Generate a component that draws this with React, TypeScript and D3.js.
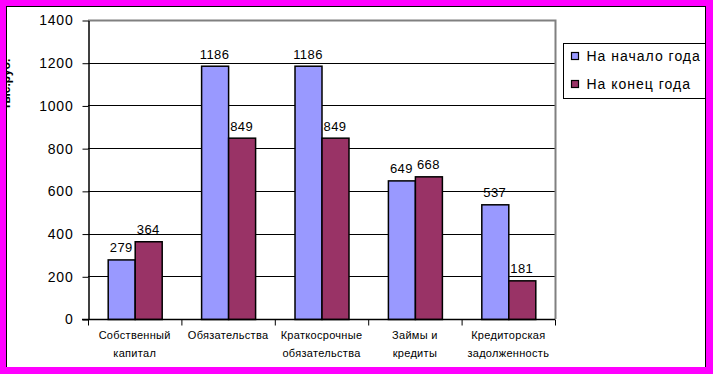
import React, { useRef, useEffect } from "react";
import * as d3 from "d3";

const categories = [
  ["Собственный", "капитал"],
  ["Обязательства"],
  ["Краткосрочные", "обязательства"],
  ["Займы и", "кредиты"],
  ["Кредиторская", "задолженность"],
];
const seriesNames = ["На начало года", "На конец года"];
const startValues = [279, 1186, 1186, 649, 537];
const endValues = [364, 849, 849, 668, 181];
const yTicks = [0, 200, 400, 600, 800, 1000, 1200, 1400];
const colors = ["#9999FF", "#993366"];

const App = () => {
  const ref = useRef<SVGSVGElement>(null);
  const width = 713;
  const height = 374;

  useEffect(() => {
    const svg = d3.select(ref.current);
    svg.selectAll("*").remove();

    const margin = { top: 20, right: 158, bottom: 55, left: 88 };
    const font = "Arial, 'Liberation Sans', sans-serif";

    svg.append("rect").attr("width", width).attr("height", height).attr("fill", "#fff");

    const x = d3
      .scaleBand()
      .domain(categories.map((d, i) => String(i)))
      .range([margin.left, width - margin.right])
      .paddingInner(0)
      .paddingOuter(0);

    const xs = d3
      .scaleBand()
      .domain(["0", "1"])
      .range([0, x.bandwidth()])
      .paddingInner(0)
      .paddingOuter(0.73);

    const y = d3
      .scaleLinear()
      .domain([0, 1400])
      .range([height - margin.bottom, margin.top]);

    // gridlines
    svg
      .append("g")
      .selectAll("line")
      .data(yTicks.filter((t) => t > 0 && t < 1400))
      .join("line")
      .attr("x1", margin.left)
      .attr("x2", width - margin.right)
      .attr("y1", (d) => Math.round(y(d)) + 0.5)
      .attr("y2", (d) => Math.round(y(d)) + 0.5)
      .attr("stroke", "#000");

    // plot frame (top + right gray)
    svg
      .append("path")
      .attr(
        "d",
        `M${margin.left},${y(1400) + 0.5}H${width - margin.right + 0.5}V${y(0)}`
      )
      .attr("fill", "none")
      .attr("stroke", "#808080")
      .attr("stroke-width", 2);

    // bars
    const data = categories.map((c, i) => [startValues[i], endValues[i]]);
    const groups = svg
      .append("g")
      .selectAll("g")
      .data(data)
      .join("g")
      .attr("transform", (d, i) => `translate(${x(String(i))},0)`);

    groups
      .selectAll("rect")
      .data((d) => d)
      .join("rect")
      .attr("x", (d, j) => xs(String(j))! + 0.5)
      .attr("y", (d) => y(d) + 0.5)
      .attr("width", xs.bandwidth())
      .attr("height", (d) => y(0) - y(d))
      .attr("fill", (d, j) => colors[j])
      .attr("stroke", "#000")
      .attr("stroke-width", 1.5);

    groups
      .selectAll("text")
      .data((d) => d)
      .join("text")
      .attr("x", (d, j) => xs(String(j))! + xs.bandwidth() / 2)
      .attr("y", (d) => y(d) - 7)
      .attr("text-anchor", "middle")
      .attr("font-family", font)
      .attr("font-size", 13)
      .attr("letter-spacing", 0.4)
      .text((d) => d);

    // Y axis
    const yAxis = svg
      .append("g")
      .attr("transform", `translate(${margin.left + 0.5},0.5)`)
      .call(
        d3
          .axisLeft(y)
          .tickValues(yTicks)
          .tickFormat(d3.format("d"))
          .tickSize(6)
          .tickPadding(9)
          .tickSizeOuter(0)
      );
    yAxis.select(".domain").attr("stroke", "#000").attr("stroke-width", 1.5);
    yAxis
      .selectAll("text")
      .attr("font-family", font)
      .attr("font-size", 14)
      .attr("letter-spacing", 0.8)
      .attr("fill", "#000");

    // X axis
    const xAxis = svg
      .append("g")
      .attr("transform", `translate(0,${y(0) + 0.5})`);
    xAxis
      .append("line")
      .attr("x1", margin.left - 6)
      .attr("x2", width - margin.right)
      .attr("stroke", "#000")
      .attr("stroke-width", 1.5);
    xAxis
      .selectAll("line.tick")
      .data(d3.range(categories.length + 1))
      .join("line")
      .attr("class", "tick")
      .attr("x1", (d) => margin.left + d * x.bandwidth() + 0.5)
      .attr("x2", (d) => margin.left + d * x.bandwidth() + 0.5)
      .attr("y1", 0)
      .attr("y2", 6)
      .attr("stroke", "#000");
    xAxis
      .selectAll("text")
      .data(categories)
      .join("text")
      .attr("text-anchor", "middle")
      .attr("font-family", font)
      .attr("font-size", 11)
      .attr("letter-spacing", 0.3)
      .selectAll("tspan")
      .data((d, i) => d.map((line) => ({ line, i })))
      .join("tspan")
      .attr("x", (d) => x(String(d.i))! + x.bandwidth() / 2)
      .attr("y", (d, k) => 19 + k * 18)
      .text((d) => d.line);

    // Y title (partly hidden under the border)
    svg
      .append("text")
      .attr("transform", "translate(10,84) rotate(-90)")
      .attr("text-anchor", "middle")
      .attr("font-family", font)
      .attr("font-size", 12)
      .attr("font-weight", "bold")
      .text("тыс.руб.");

    // legend
    const lg = svg.append("g").attr("transform", "translate(563.5,43.5)");
    lg.append("rect")
      .attr("width", 150)
      .attr("height", 55)
      .attr("fill", "#fff")
      .attr("stroke", "#000");
    const items = lg
      .selectAll("g.item")
      .data(seriesNames)
      .join("g")
      .attr("class", "item")
      .attr("transform", (d, i) => `translate(8,${9 + i * 28})`);
    items
      .append("rect")
      .attr("width", 7)
      .attr("height", 7)
      .attr("fill", (d, i) => colors[i])
      .attr("stroke", "#000")
      .attr("stroke-width", 1.2);
    items
      .append("text")
      .attr("x", 15)
      .attr("y", 8)
      .attr("font-family", font)
      .attr("font-size", 14)
      .attr("letter-spacing", 1)
      .text((d) => d);

    // outer border
    svg
      .append("rect")
      .attr("x", 3)
      .attr("y", 3)
      .attr("width", width - 6)
      .attr("height", height - 6)
      .attr("fill", "none")
      .attr("stroke", "#FF00FF")
      .attr("stroke-width", 6);
    svg
      .append("rect")
      .attr("x", 6.5)
      .attr("y", 6.5)
      .attr("width", width - 14)
      .attr("height", height - 13)
      .attr("fill", "none")
      .attr("stroke", "#000");
    svg
      .append("rect")
      .attr("x", width - 7)
      .attr("y", 0)
      .attr("width", 7)
      .attr("height", height)
      .attr("fill", "#FF00FF");
    svg
      .append("rect")
      .attr("x", 0)
      .attr("y", height - 7)
      .attr("width", width)
      .attr("height", 7)
      .attr("fill", "#FF00FF");
  }, []);

  return (
    <svg
      ref={ref}
      width={width}
      height={height}
      style={{ position: "absolute", left: 0, top: 0, display: "block" }}
    />
  );
};

export default App;
